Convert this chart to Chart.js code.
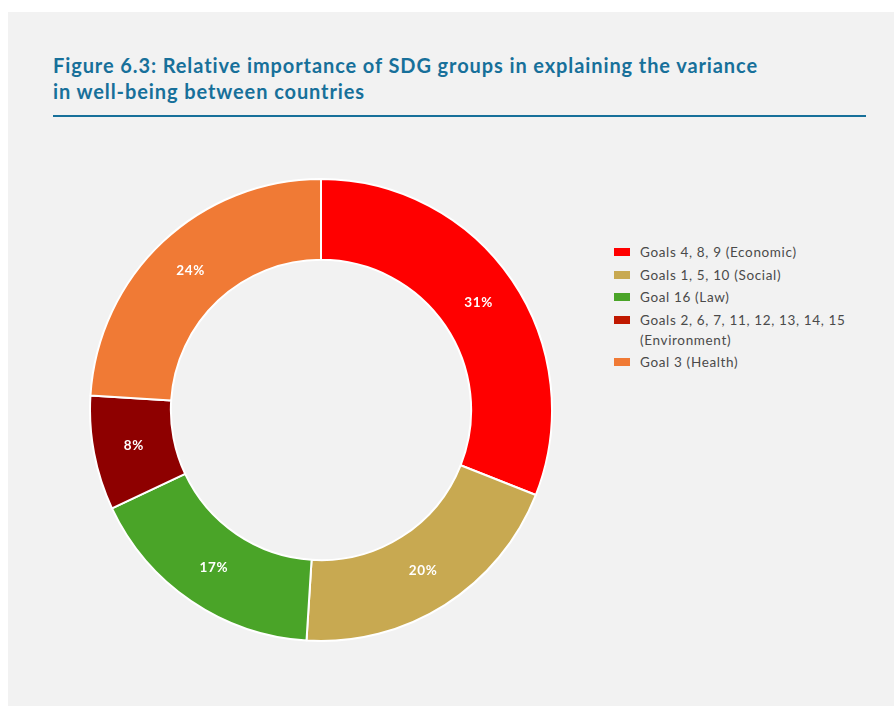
<!DOCTYPE html>
<html>
<head>
<meta charset="utf-8">
<script src="https://cdn.jsdelivr.net/npm/chart.js@4/dist/chart.umd.min.js"></script>
<style>
  html, body { margin: 0; padding: 0; background: #ffffff; }
  body { width: 894px; height: 706px; position: relative; overflow: hidden; font-family: Lato, "Open Sans", sans-serif; }
  #panel { position: absolute; left: 8px; top: 12px; right: 0; bottom: 0; background: #f2f2f2; }
  #title { position: absolute; left: 53px; top: 52px; margin: 0; color: #17709a; font: 700 20px/26px Lato, sans-serif; letter-spacing: 0.9px; }
  #rule { position: absolute; left: 53px; top: 115px; width: 813px; height: 2px; background: #17709a; }
  #box { position: absolute; left: 89px; top: 178px; width: 464px; height: 464px; }
  #legend { position: absolute; left: 614px; top: 242px; margin: 0; padding: 0; list-style: none; }
  #legend li { position: relative; padding-left: 26px; font: 13.5px/20px Lato, sans-serif; letter-spacing: 0.65px; color: #4a4a4a; margin-bottom: 2.5px; }
  #legend span { position: absolute; left: 0; top: 6px; width: 16px; height: 8px; }
</style>
</head>
<body>
<div id="panel"></div>
<h1 id="title">Figure 6.3: Relative importance of SDG groups in explaining the variance<br>in well-being between countries</h1>
<div id="rule"></div>
<div id="box"><canvas id="chart"></canvas></div>
<ul id="legend"></ul>
<script>
// categories and values (percent of explained variance)
var labels = ['Goals 4, 8, 9 (Economic)', 'Goals 1, 5, 10 (Social)', 'Goal 16 (Law)', 'Goals 2, 6, 7, 11, 12, 13, 14, 15\n(Environment)', 'Goal 3 (Health)'];
var values = [31, 20, 17, 8, 24];
var sliceColors = ['#ff0000', '#c8a951', '#4aa428', '#8e0000', '#f07a35'];
var legendColors = ['#ff0000', '#c8a951', '#4aa428', '#c01800', '#f07a35'];

// legend (html, built from the same arrays)
var legend = document.getElementById('legend');
labels.forEach(function(label, i) {
  var li = document.createElement('li');
  var sw = document.createElement('span');
  sw.style.background = legendColors[i];
  li.appendChild(sw);
  label.split('\n').forEach(function(line, j) {
    if (j > 0) li.appendChild(document.createElement('br'));
    li.appendChild(document.createTextNode(line));
  });
  legend.appendChild(li);
});

// percent labels in the middle of each slice
var sliceLabels = {
  id: 'sliceLabels',
  afterDatasetsDraw: function(chart) {
    var ctx = chart.ctx;
    var meta = chart.getDatasetMeta(0);
    ctx.save();
    ctx.fillStyle = '#ffffff';
    ctx.font = '700 13.5px Lato, sans-serif';
    ctx.letterSpacing = '0.6px';
    ctx.textAlign = 'center';
    ctx.textBaseline = 'middle';
    meta.data.forEach(function(arc, i) {
      var p = arc.tooltipPosition();
      ctx.fillText(values[i] + '%', p.x, p.y);
    });
    ctx.restore();
  }
};

var ctx = document.getElementById('chart').getContext('2d');
window.myChart = new Chart(ctx, {
  type: 'doughnut',
  data: {
    labels: labels,
    datasets: [{
      data: values,
      backgroundColor: sliceColors,
      borderColor: '#ffffff',
      borderWidth: 2
    }]
  },
  options: {
    responsive: true,
    maintainAspectRatio: false,
    animation: false,
    cutout: '65%',
    layout: { padding: 0 },
    plugins: {
      legend: { display: false },
      tooltip: { enabled: false }
    }
  },
  plugins: [sliceLabels]
});
</script>
</body>
</html>
